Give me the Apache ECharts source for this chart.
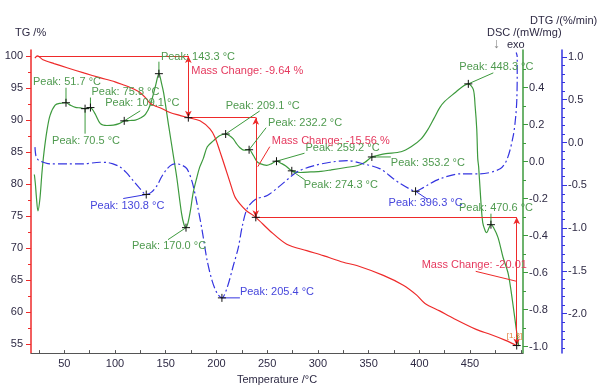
<!DOCTYPE html>
<html><head><meta charset="utf-8">
<script src="https://cdn.jsdelivr.net/npm/echarts@6/dist/echarts.min.js"></script>
<style>html,body{margin:0;padding:0;background:#fff}#c{width:600px;height:390px}</style>
</head><body><div id="c"></div>
<script>
// ---------------- DATA ----------------
const tgData = [[21.0,99.65],[23.6,100.0],[29,99.4],[40,98.8],[52.7,98.15],[70,97.3],[85.2,96.6],[100,95.95],[107.9,95.5],[116,95.0],[124.6,94.3],[130,93.5],[134.6,92.6],[140,92.15],[144.4,91.9],[154.2,91.17],[163,90.75],[172.3,90.36],[183.8,89.87],[193.6,88.6],[198.5,87.3],[203.4,85.1],[208.4,82.7],[213.3,80.3],[218.2,78.0],[223.1,76.9],[229.8,75.8],[238.8,74.80],[252.8,72.68],[269.3,70.61],[289,69.6],[305.4,68.82],[325.1,67.79],[338.3,67.28],[364.5,65.74],[384.2,64.2],[397.4,62.66],[405.6,61.37],[420,60.2],[433.5,59.05],[456.6,57.27],[469.7,56.55],[485,55.6],[496,54.79]];
const dscData = [[20.5,-0.07],[21.5,-0.12],[22.5,-0.19],[24,-0.267],[26,-0.2],[28,-0.06],[30,0.05],[33,0.17],[36,0.25],[41,0.305],[46,0.315],[51.7,0.318],[56,0.305],[61,0.293],[66,0.29],[70.5,0.286],[73,0.289],[75.8,0.292],[78,0.28],[80.6,0.256],[85.6,0.205],[92,0.195],[98.4,0.197],[104,0.205],[109.1,0.22],[115,0.222],[120,0.224],[125,0.235],[130,0.255],[135,0.31],[140,0.41],[143.3,0.475],[146,0.42],[148,0.37],[153,0.19],[158,0.016],[161,-0.09],[165.6,-0.28],[168,-0.34],[170.0,-0.357],[172,-0.33],[174.5,-0.26],[177,-0.17],[180.5,-0.09],[183.5,-0.03],[187,0.016],[191,0.08],[196.9,0.112],[203,0.14],[209.1,0.149],[213,0.14],[216.6,0.123],[220,0.095],[223.2,0.075],[227,0.062],[232.2,0.064],[236.3,0.034],[240,0.0],[243,-0.011],[249.5,-0.02],[254.5,-0.011],[259.2,0.002],[264,-0.01],[268,-0.022],[274.3,-0.05],[283,-0.059],[293,-0.056],[303,-0.053],[313,-0.045],[327.7,-0.032],[339.5,-0.021],[346,-0.005],[353.2,0.025],[360,0.035],[367,0.043],[382,0.053],[391.9,0.08],[401.8,0.123],[408.7,0.176],[414.6,0.235],[420,0.29],[425,0.325],[435.8,0.375],[442.4,0.405],[448.3,0.42],[453.2,0.39],[455,0.30],[456.6,0.176],[457.6,0.016],[458.5,-0.03],[460.5,-0.2],[462.5,-0.33],[465,-0.375],[466.5,-0.384],[468.5,-0.36],[470.6,-0.341],[473,-0.355],[477.6,-0.411],[482.5,-0.517],[487.7,-0.608],[492,-0.76],[495.6,-0.907],[498,-0.997]];
const dtgData = [[21.1,-0.054],[22.1,-0.158],[24,-0.2],[26,-0.216],[29.3,-0.231],[35.9,-0.25],[52.7,-0.25],[68.4,-0.25],[85.2,-0.231],[92,-0.233],[98,-0.25],[104.9,-0.285],[111,-0.35],[117.7,-0.443],[124,-0.53],[130.8,-0.608],[136,-0.58],[141.4,-0.504],[146,-0.4],[151.3,-0.308],[156,-0.26],[161.1,-0.25],[166,-0.265],[171,-0.308],[176,-0.458],[180.8,-0.711],[185.8,-1.02],[190.7,-1.37],[195.6,-1.61],[200.6,-1.76],[205.4,-1.815],[210.7,-1.69],[216.6,-1.44],[221.5,-1.23],[225.5,-0.977],[230.4,-0.769],[238.3,-0.665],[250.1,-0.619],[262.9,-0.504],[279.7,-0.343],[295.5,-0.273],[312.2,-0.231],[329,-0.212],[344.8,-0.25],[361.5,-0.308],[374.4,-0.423],[381.3,-0.481],[390,-0.54],[396.3,-0.57],[402,-0.54],[407.8,-0.5],[420.6,-0.423],[440.3,-0.366],[460,-0.366],[479.7,-0.308],[486.6,-0.193],[492.5,0.073],[495,0.3],[496.1,0.5],[496.5,0.8],[496.5,1.0],[495.5,1.05]];

const dscPeaks = [51.7,70.5,75.8,109.1,143.3,170.0,209.1,232.2,259.2,274.3,353.2,448.3,470.6];
const dtgPeaks = [130.8,205.4,396.3];
const massSteps = [
  {T0:23.6, v0:100.0, T1:172.3, v1:90.36, text:'Mass Change: -9.64 %'},
  {T0:172.3, v0:90.36, T1:238.8, v1:74.80, text:'Mass Change: -15.56 %'},
  {T0:238.8, v0:74.80, T1:496, v1:54.79, text:'Mass Change: -20.01'}
];
const xLabels = [50,100,150,200,250,300,350,400,450];
const xTicks = [25,50,75,100,125,150,175,200,225,250,275,300,325,350,375,400,425,450,475,500];
const tgLabels = [55,60,65,70,75,80,85,90,95,100];
const tgMinor = [57.5,62.5,67.5,72.5,77.5,82.5,87.5,92.5,97.5];
const dscLabels = [-1.0,-0.8,-0.6,-0.4,-0.2,0.0,0.2,0.4];
const dscMinor = [-0.9,-0.7,-0.5,-0.3,-0.1,0.1,0.3,0.5];
const dtgLabels = [-2.0,-1.5,-1.0,-0.5,0.0,0.5,1.0];
const dtgMinor = [-2.4,-2.3,-2.2,-2.1,-1.9,-1.8,-1.7,-1.6,-1.4,-1.3,-1.2,-1.1,-0.9,-0.8,-0.7,-0.6,-0.4,-0.3,-0.2,-0.1,0.1,0.2,0.3,0.4,0.6,0.7,0.8,0.9];

// ---------------- LAYOUT (pixel offsets) ----------------
const dscPeakLayout = [[-33,-21,0,-15],[-33,32,0,25],[1,-16,0,-10],[-19,-18,16,-10],[2,-17,0,-12],[-54,18,-18,12],[0,-28,34,-23],[19,-27,17,-22],[29,-13,28,-8],[12,14,13,9],[19,6,19,0],[-9,-17,25,-11],[-32,-17,0,-11]];
const dtgPeakLayout = [[-56,11,-23,4],[18,-6,18,0],[-27,12,12,8]];
const massLayout = [{t:[3,15]},{t:[16,23],l:[14,29,2,49]},{t:[-95,48],l:[-41,54,0,64]}];

const FONT = '"Liberation Sans", Arial, sans-serif';
const RED = '#ee2a2a', GREEN = '#3d9a3d', BLUE = '#3434e0';
const TXT = '#2e2a44';

function yAx(min,max,pos,offset,color,labels,fmt){
  return {type:'value',min:min,max:max,position:pos,offset:offset,
    axisLine:{show:true,onZero:false,lineStyle:{color:color,width:1.5}},
    axisTick:{show:true,inside:false,length:5,lineStyle:{color:color},customValues:labels},
    axisLabel:{show:true,customValues:labels,color:TXT,fontSize:11,fontFamily:FONT,margin:pos==='left'?8:6,formatter:fmt},
    splitLine:{show:false}};
}
function yMinor(min,max,pos,offset,color,vals){
  return {type:'value',min:min,max:max,position:pos,offset:offset,
    axisLine:{show:false},
    axisTick:{show:true,inside:false,length:3,lineStyle:{color:color},customValues:vals},
    axisLabel:{show:false},splitLine:{show:false}};
}

const option = {
  animation:false,
  backgroundColor:'#fff',
  grid:{left:31,right:77,top:50,bottom:33,containLabel:false},
  xAxis:{type:'value',min:17.2,max:502.2,
    name:'Temperature /°C',nameLocation:'middle',nameGap:13,
    nameTextStyle:{color:TXT,fontSize:11,fontFamily:FONT},
    axisLine:{show:true,onZero:false,lineStyle:{color:'#555',width:1}},
    axisTick:{show:true,inside:true,length:3,lineStyle:{color:'#555'},customValues:xTicks},
    axisLabel:{customValues:xLabels,color:TXT,fontSize:11,fontFamily:FONT,margin:5},
    splitLine:{show:false}},
  yAxis:[
    yAx(53.61,100.92,'left',0,RED,tgLabels,v=>String(Math.round(v))),
    yAx(-1.035,0.603,'right',0,GREEN,dscLabels,v=>v.toFixed(1)),
    yAx(-2.46,1.08,'right',39,BLUE,dtgLabels,v=>v.toFixed(1)),
    yMinor(53.61,100.92,'left',0,RED,tgMinor),
    yMinor(-1.035,0.603,'right',0,GREEN,dscMinor),
    yMinor(-2.46,1.08,'right',39,BLUE,dtgMinor)
  ],
  series:[
    {type:'line',name:'TG',yAxisIndex:0,data:tgData,showSymbol:false,smooth:0.3,
     lineStyle:{color:RED,width:1.2},z:3,
     markLine:{silent:true,symbol:['none','none'],label:{show:false},animation:false,
       lineStyle:{color:RED,width:1,type:'solid'},
       data: massSteps.flatMap(s=>[
         [{coord:[s.T0,s.v0]},{coord:[s.T1,s.v0]}],
         [{coord:[s.T1,s.v0],symbol:'arrow',symbolSize:[5,7]},{coord:[s.T1,s.v1],symbol:'arrow',symbolSize:[5,7]}]
       ])}},
    {type:'line',name:'DSC',yAxisIndex:1,data:dscData,showSymbol:false,smooth:0.3,
     lineStyle:{color:GREEN,width:1.2},z:2},
    {type:'line',name:'DTG',yAxisIndex:2,data:dtgData,showSymbol:false,smooth:0.3,
     lineStyle:{color:BLUE,width:1.2,type:[9,3,2,3]},z:2}
  ]
};

const chart = echarts.init(document.getElementById('c'),null,{renderer:'canvas'});
chart.setOption(option);

function px(yi,p){return chart.convertToPixel({xAxisIndex:0,yAxisIndex:yi},p);}
function valAt(data,T){let best=data[0];for(const d of data){if(Math.abs(d[0]-T)<Math.abs(best[0]-T))best=d;}return best[1];}
const g=[];
function plus(p){
  g.push({type:'line',z:20,shape:{x1:p[0]-4,y1:p[1],x2:p[0]+4,y2:p[1]},style:{stroke:'#111',lineWidth:1}});
  g.push({type:'line',z:20,shape:{x1:p[0],y1:p[1]-4,x2:p[0],y2:p[1]+4},style:{stroke:'#111',lineWidth:1}});
}
function txt(x,y,t,color,size,align){
  g.push({type:'text',z:15,x:x,y:y,style:{text:t,fill:color,font:(size||11)+'px '+FONT,align:align||'left',verticalAlign:'middle'}});
}
function seg(x1,y1,x2,y2,color){
  g.push({type:'line',z:12,shape:{x1:x1,y1:y1,x2:x2,y2:y2},style:{stroke:color,lineWidth:1}});
}
const GTXT='#4f9a4f', BTXT='#4646dc', MTXT='#e5395e';
dscPeaks.forEach((T,i)=>{
  const p=px(1,[T,valAt(dscData,T)]); const L=dscPeakLayout[i];
  seg(p[0],p[1],p[0]+L[2],p[1]+L[3],GREEN);
  txt(p[0]+L[0],p[1]+L[1],'Peak: '+T.toFixed(1)+' °C',GTXT);
  plus(p);
});
dtgPeaks.forEach((T,i)=>{
  const p=px(2,[T,valAt(dtgData,T)]); const L=dtgPeakLayout[i];
  seg(p[0],p[1],p[0]+L[2],p[1]+L[3],BLUE);
  txt(p[0]+L[0],p[1]+L[1],'Peak: '+T.toFixed(1)+' °C',BTXT);
  plus(p);
});
massSteps.forEach((s,i)=>{
  const top=px(0,[s.T1,s.v0]); const end=px(0,[s.T1,s.v1]); const L=massLayout[i];
  txt(top[0]+L.t[0],top[1]+L.t[1],s.text,MTXT);
  if(L.l) seg(top[0]+L.l[0],top[1]+L.l[1],top[0]+L.l[2],top[1]+L.l[3],RED);
  plus(end);
});
const lastTG=px(0,tgData[tgData.length-1]);
txt(lastTG[0]-10,lastTG[1]-10,'[1.3]','#e0803a',8);
// axis titles
txt(15,33,'TG /%',TXT,11);
txt(530,21,'DTG /(%/min)',TXT,11);
txt(487,33,'DSC /(mW/mg)',TXT,11);
txt(493,44,'↓',"#888",14);
txt(507,45,'exo',TXT,11);
chart.setOption({graphic:g});
</script>
</body></html>
